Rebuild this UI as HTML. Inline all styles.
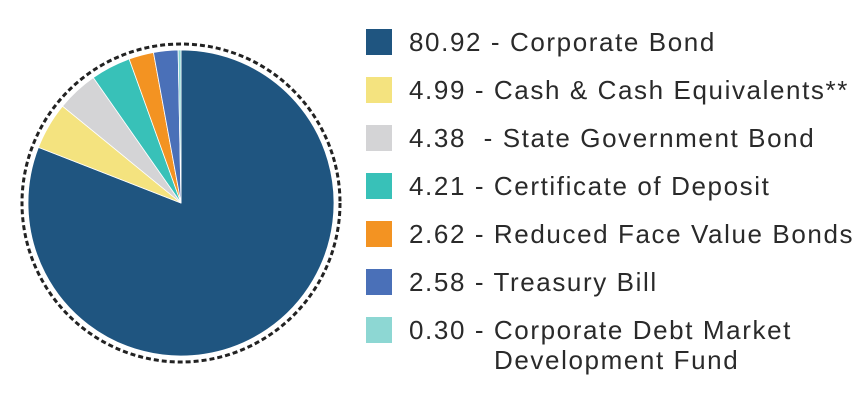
<!DOCTYPE html>
<html><head><meta charset="utf-8"><style>
body{margin:0;background:#fff;width:863px;height:411px;overflow:hidden}
svg text{font-family:"Liberation Sans",sans-serif;font-size:26px;fill:#2a2a2a;letter-spacing:1.6px}
</style></head><body>
<svg id="s" width="863" height="411" xmlns="http://www.w3.org/2000/svg">
<circle cx="181" cy="203" r="159" fill="none" stroke="#222" stroke-width="3" stroke-dasharray="5 3"/>
<g id="pie"></g>
<rect x="366" y="29" width="26" height="26" fill="#1f5580"/>
<rect x="366" y="77" width="26" height="26" fill="#f4e37f"/>
<rect x="366" y="125" width="26" height="26" fill="#d4d4d6"/>
<rect x="366" y="173" width="26" height="26" fill="#38c1b8"/>
<rect x="366" y="221" width="26" height="26" fill="#f39322"/>
<rect x="366" y="269" width="26" height="26" fill="#4a70b8"/>
<rect x="366" y="317" width="26" height="26" fill="#8dd7d3"/>
<text x="409" y="51">80.92 - Corporate Bond</text>
<text x="409" y="99">4.99 - Cash &amp; Cash Equivalents**</text>
<text x="409" y="147" xml:space="preserve">4.38  - State Government Bond</text>
<text x="409" y="195">4.21 - Certificate of Deposit</text>
<text x="409" y="243">2.62 - Reduced Face Value Bonds</text>
<text x="409" y="291">2.58 - Treasury Bill</text>
<text x="409" y="339">0.30 - Corporate Debt Market</text>
<text x="494" y="369">Development Fund</text>
</svg>
<script>
var d=[[80.92,"#1f5580"],[4.99,"#f4e37f"],[4.38,"#d4d4d6"],[4.21,"#38c1b8"],[2.62,"#f39322"],[2.58,"#4a70b8"],[0.30,"#8dd7d3"]];
var cx=181,cy=203,r=153,a=0,g=document.getElementById("pie"),h="";
function pt(t){var q=t/100*2*Math.PI;return [cx+r*Math.sin(q),cy-r*Math.cos(q)];}
d.forEach(function(s){var p1=pt(a),p2=pt(a+s[0]);var large=s[0]>50?1:0;
h+='<path d="M'+cx+','+cy+' L'+p1[0].toFixed(2)+','+p1[1].toFixed(2)+' A'+r+','+r+' 0 '+large+' 1 '+p2[0].toFixed(2)+','+p2[1].toFixed(2)+' Z" fill="'+s[1]+'" stroke="#fff" stroke-width="0.8"/>';a+=s[0];});
g.innerHTML=h;
</script>
</body></html>
